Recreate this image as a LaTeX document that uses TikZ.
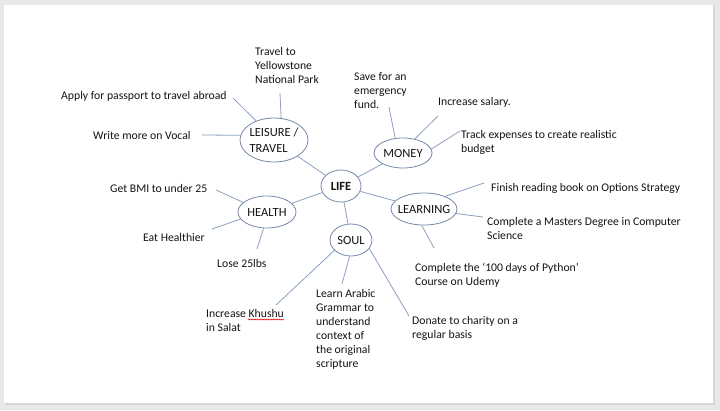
\documentclass[tikz,border=0pt]{standalone}
\usepackage{fontspec}
\setmainfont{Carlito}
\usetikzlibrary{shapes.geometric,decorations.pathmorphing}
\definecolor{lnc}{RGB}{140,160,194}
\definecolor{elc}{RGB}{118,136,166}
\definecolor{txc}{RGB}{20,20,20}
\definecolor{bgc}{RGB}{232,232,232}
\definecolor{shc}{RGB}{214,214,214}
\begin{document}
\begin{tikzpicture}[x=1pt,y=-1pt,
  bub/.style={ellipse,draw=elc,line width=0.8pt,inner sep=0pt,
    label={[text=txc,align=left,font=\fontsize{12.5}{16.5}\selectfont]center:#1}},
  leaf/.style={anchor=west,inner sep=0pt,align=left,text=txc,
    font=\fontsize{11.7}{14}\selectfont},
  conn/.style={draw=lnc,line width=0.8pt}]
\useasboundingbox (0,0) rectangle (720,410);
\fill[bgc] (0,0) rectangle (720,410);
\fill[shc] (4.5,6) rectangle (715,405);
\fill[white] (3.5,5) rectangle (713,403);

% central bubbles
\node[ellipse,draw=elc,line width=0.8pt,inner sep=0pt,minimum width=40,minimum height=32,
  label={[text=txc,font=\fontsize{12.5}{14}\selectfont\bfseries]center:LIFE}] (life) at (341,186) {};
\node[bub={LEISURE /\\TRAVEL},minimum width=68,minimum height=44] (leisure) at (274,140) {};
\node[bub={MONEY},minimum width=58,minimum height=30] (money) at (403,153) {};
\node[bub={LEARNING},minimum width=66,minimum height=32] (learning) at (424,209) {};
\node[bub={HEALTH},minimum width=58,minimum height=32] (health) at (267,212) {};
\node[bub={SOUL},minimum width=42,minimum height=32] (soul) at (351,240) {};

\draw[conn] (life) -- (leisure);
\draw[conn] (life) -- (money);
\draw[conn] (life) -- (learning);
\draw[conn] (life) -- (health);
\draw[conn] (life) -- (soul);

% leaf texts
\node[leaf] (t-apply) at (61,96) {Apply for passport to travel abroad};
\node[leaf] (t-vocal) at (93,135) {Write more on Vocal};
\node[leaf] (t-yell) at (255,65) {Travel to\\Yellowstone\\National Park};
\node[leaf] (t-save) at (354,91) {Save for an\\emergency\\fund.};
\node[leaf] (t-sal) at (438,102) {Increase salary.};
\node[leaf] (t-track) at (461,142) {Track expenses to create realistic\\budget};
\node[leaf] (t-book) at (491,188) {Finish reading book on Options Strategy};
\node[leaf] (t-master) at (487,228.5) {Complete a Masters Degree in Computer\\Science};
\node[leaf] (t-python) at (415,275) {Complete the ‘100 days of Python’\\Course on Udemy};
\node[leaf] (t-bmi) at (110,188) {Get BMI to under 25};
\node[leaf] (t-eat) at (143,237) {Eat Healthier};
\node[leaf] (t-lose) at (217,263) {Lose 25lbs};
\node[leaf] (t-khushu) at (206,320) {Increase Khushu\\in Salat};
\node[leaf] (t-arabic) at (316,329) {Learn Arabic\\Grammar to\\understand\\context of\\the original\\scripture};
\node[leaf] (t-donate) at (412,328.5) {Donate to charity on a\\regular basis};

% spell-check underline
\draw[red!85!black,line width=0.5pt,decorate,decoration={snake,amplitude=0.5pt,segment length=2.2pt}]
  (248,319.5) -- (284,319.5);

% free ends of leaf connectors
\coordinate (c-apply) at (233,98);
\coordinate (c-vocal) at (202,135);
\coordinate (c-yell) at (280,93);
\coordinate (c-save) at (389,107);
\coordinate (c-sal) at (438,116);
\coordinate (c-track) at (460,131);
\coordinate (c-book) at (484,183);
\coordinate (c-master) at (483,217);
\coordinate (c-python) at (434,248);
\coordinate (c-bmi) at (216,190);
\coordinate (c-eat) at (212,229);
\coordinate (c-lose) at (257,249);
\coordinate (c-khushu) at (276,305);
\coordinate (c-arabic) at (342,284);
\coordinate (c-donate) at (409,316);

\draw[conn] (leisure.133) -- (c-apply);
\draw[conn] (leisure.172) -- (c-vocal);
\draw[conn] (leisure.72) -- (c-yell);
\draw[conn] (money.118) -- (c-save);
\draw[conn] (money.50) -- (c-sal);
\draw[conn] (money.8) -- (c-track);
\draw[conn] (learning.31) -- (c-book);
\draw[conn] (learning.352) -- (c-master);
\draw[conn] (learning.262) -- (c-python);
\draw[conn] (health.158) -- (c-bmi);
\draw[conn] (health.195) -- (c-eat);
\draw[conn] (health.258) -- (c-lose);
\draw[conn] (soul.212) -- (c-khushu);
\draw[conn] (soul.265) -- (c-arabic);
\draw[conn] (soul.335) -- (c-donate);
\end{tikzpicture}
\end{document}
